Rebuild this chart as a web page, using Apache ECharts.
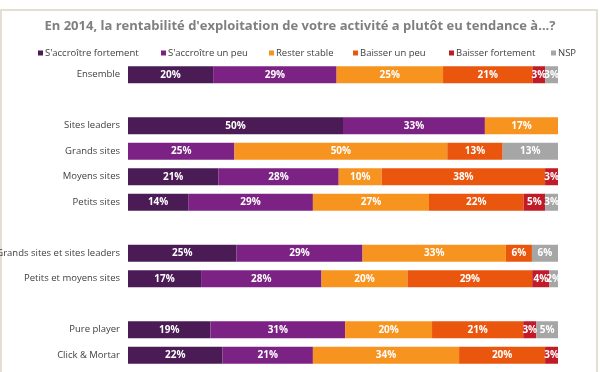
<!DOCTYPE html>
<html><head><meta charset="utf-8">
<script src="https://cdn.jsdelivr.net/npm/echarts@6/dist/echarts.min.js"></script>
<style>html,body{margin:0;padding:0;background:#fff}#c{width:600px;height:372px}</style>
</head><body><div id="c"></div>
<script>
const titleText = "En 2014, la rentabilité d'exploitation de votre activité a plutôt eu tendance à...?";
const categories = ["Ensemble", " ", "Sites leaders", "Grands sites", "Moyens sites", "Petits sites", "  ", "Grands sites et sites leaders", "Petits et moyens sites", "   ", "Pure player", "Click & Mortar"];
const seriesNames = ["S'accroître fortement", "S'accroître un peu", "Rester stable", "Baisser un peu", "Baisser fortement", "NSP"];
const fortement  = [20, null, 50, null, 21, 14, null, 25, 17, null, 19, 22];
const unPeu      = [29, null, 33, 25, 28, 29, null, 29, 28, null, 31, 21];
const stable     = [25, null, 17, 50, 10, 27, null, 33, 20, null, 20, 34];
const baisserPeu = [21, null, null, 13, 38, 22, null, 6, 29, null, 21, 20];
const baisserFort= [3, null, null, null, 3, 5, null, null, 4, null, 3, 3];
const nsp        = [3, null, null, 13, null, 3, null, 6, 2, null, 5, null];
const colors = ["#4B1B56", "#7C2284", "#F7931F", "#EB560E", "#C11B28", "#A6A6A6"];

const raw = [fortement, unPeu, stable, baisserPeu, baisserFort, nsp];
const sums = categories.map((c, i) => raw.reduce((s, a) => s + (a[i] || 0), 0));

const legendLefts = [38, 161, 269, 353, 449, 551];

const chart = echarts.init(document.getElementById('c'), null, {renderer: 'canvas'});
chart.setOption({
  animation: false,
  textStyle: {fontFamily: "Open Sans"},
  graphic: [{
    type: 'rect', shape: {x: 1, y: 10, width: 596, height: 380},
    style: {fill: 'none', stroke: '#DCD5C3', lineWidth: 1.5}, silent: true, z: -1
  }],
  title: {
    text: titleText, left: 'center', top: 15,
    textStyle: {fontFamily: "Open Sans", fontWeight: 'bold', fontSize: 13, color: '#7F7F7F'}
  },
  legend: seriesNames.map((n, k) => ({
    data: [n], left: legendLefts[k], top: 48, icon: 'rect', itemWidth: 5, itemHeight: 5, itemGap: 0,
    textStyle: {fontFamily: "Open Sans", fontSize: 9.5, color: '#404040', padding: [0, 0, 0, -3]}, padding: 0
  })),
  grid: {left: 128, right: 42, top: 62, bottom: 4, containLabel: false, outerBoundsMode: 'none'},
  xAxis: {type: 'value', min: 0, max: 100, show: false},
  yAxis: {
    type: 'category', data: categories, inverse: true,
    axisLine: {show: false}, axisTick: {show: false},
    axisLabel: {fontFamily: "Open Sans", fontSize: 9.5, color: '#404040', margin: 8}
  },
  series: raw.map((arr, k) => ({
    name: seriesNames[k], type: 'bar', stack: 'total', barWidth: 17,
    itemStyle: {color: colors[k]},
    label: {
      show: true, position: 'inside', color: '#fff', fontWeight: 'bold', fontSize: 10, fontFamily: "Open Sans",
      formatter: p => arr[p.dataIndex] == null ? '' : arr[p.dataIndex] + '%'
    },
    data: arr.map((v, i) => v == null ? null : v / sums[i] * 100)
  }))
});
</script></body></html>
